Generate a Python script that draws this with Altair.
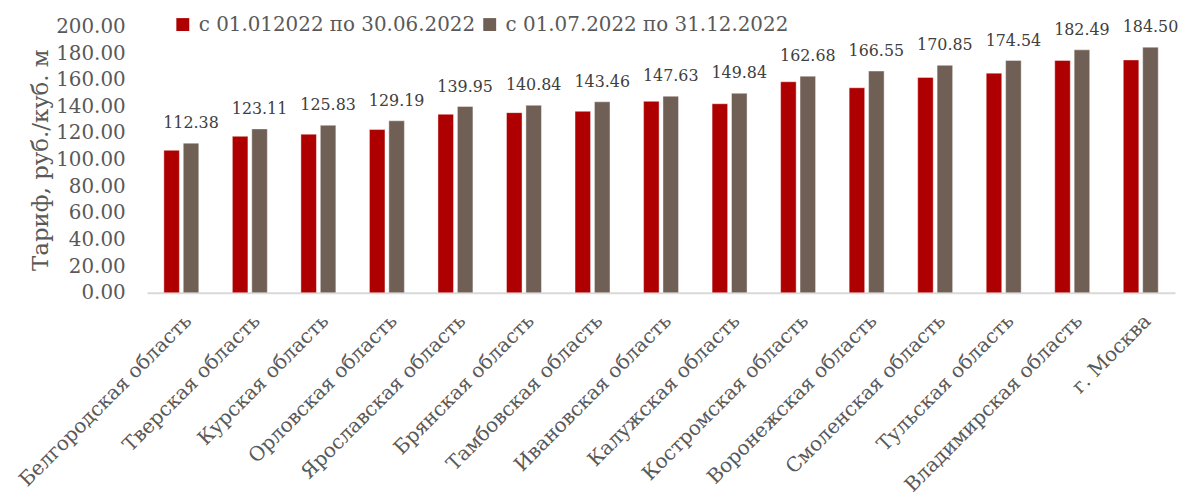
import altair as alt
import pandas as pd

regions = ["Белгородская область", "Тверская область", "Курская область",
           "Орловская область", "Ярославская область", "Брянская область",
           "Тамбовская область", "Ивановская область", "Калужская область",
           "Костромская область", "Воронежская область", "Смоленская область",
           "Тульская область", "Владимирская область", "г. Москва"]
first_half = [107.0, 117.5, 119.1, 122.6, 134.1, 135.3, 136.3, 143.8, 142.0,
              158.5, 154.0, 161.8, 165.0, 174.5, 174.9]
second_half = [112.38, 123.11, 125.83, 129.19, 139.95, 140.84, 143.46, 147.63,
               149.84, 162.68, 166.55, 170.85, 174.54, 182.49, 184.50]
series = ["с 01.012022 по 30.06.2022", "с 01.07.2022 по 31.12.2022"]
colors = ["#AE0000", "#705F55"]

rows = []
for r, a, b in zip(regions, first_half, second_half):
    rows.append({"region": r, "series": series[0], "value": a})
    rows.append({"region": r, "series": series[1], "value": b})
df = pd.DataFrame(rows)

FONT = "DejaVu Serif"
TXT = "#595959"

x = alt.X("region:N", sort=regions, title=None,
          scale=alt.Scale(paddingInner=0.49, paddingOuter=0.245),
          axis=alt.Axis(labelAngle=-45, labelFontSize=20, labelFont=FONT,
                        labelColor=TXT, ticks=False, domainColor="#D9D9D9",
                        domainWidth=2, labelPadding=18, labelAlign="right",
                        labelBaseline="top", labelOverlap=False, labelLimit=400))
y = alt.Y("value:Q", title="Тариф, руб./куб. м",
          scale=alt.Scale(domain=[0, 200], nice=False),
          axis=alt.Axis(values=list(range(0, 201, 20)), format=".2f",
                        labelFontSize=20, labelFont=FONT, labelColor=TXT,
                        ticks=False, domain=False, grid=False, labelPadding=22,
                        titleFont=FONT, titleFontSize=23, titleColor=TXT,
                        titleFontWeight="normal", titlePadding=3))
xo = alt.XOffset("series:N", sort=series,
                 scale=alt.Scale(paddingInner=0.2, paddingOuter=0))

bars = alt.Chart(df).mark_bar(stroke="#ffffff", strokeWidth=0.6, strokeOpacity=0.7).encode(
    x=x, y=y, xOffset=xo,
    color=alt.Color("series:N", sort=series,
                    scale=alt.Scale(domain=series, range=colors),
                    legend=alt.Legend(title=None, orient="none", direction="horizontal",
                                      legendX=26, legendY=-12, symbolType="square",
                                      symbolSize=169, symbolStrokeWidth=0,
                                      labelFontSize=20, labelFont=FONT,
                                      labelColor=TXT, labelOffset=6,
                                      columnPadding=4, padding=0,
                                      labelLimit=400))
)

labels = alt.Chart(df).transform_filter(
    alt.datum.series == series[1]
).mark_text(font=FONT, fontSize=16, color="#404040", dy=-15,
            baseline="alphabetic").encode(
    x=x, y=y, xOffset=xo,
    text=alt.Text("value:Q", format=".2f")
)

chart = alt.layer(bars, labels).properties(
    width=1035, height=268,
    autosize=alt.AutoSizeParams(type="none"),
    padding={"left": 140, "top": 17, "right": 4, "bottom": 204},
).configure_view(stroke=None)

chart.save("out.html", embed_options={"renderer": "svg", "actions": False})
